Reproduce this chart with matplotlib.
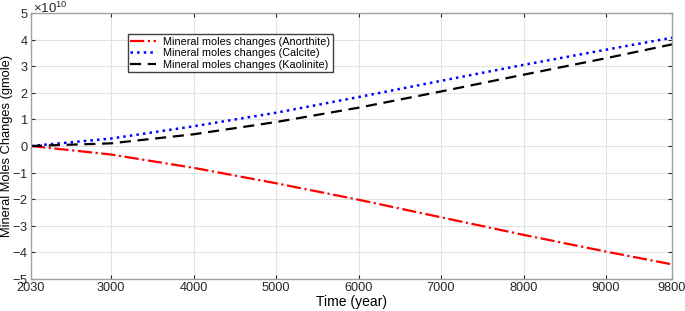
import numpy as np
import matplotlib.pyplot as plt
from matplotlib.ticker import ScalarFormatter

plt.rcParams['font.family'] = ['Liberation Sans', 'DejaVu Sans']
plt.rcParams['axes.unicode_minus'] = False
plt.rcParams['mathtext.fontset'] = 'custom'
plt.rcParams['mathtext.rm'] = 'Liberation Sans'
plt.rcParams['mathtext.it'] = 'Liberation Sans'

# values (units of 1e10 gmole)
years = [2030, 3000, 4000, 5000, 6000, 7000, 8000, 9000, 9800]
anorthite = [0.0, -0.32, -0.82, -1.40, -2.02, -2.68, -3.34, -3.97, -4.45]
calcite = [0.0, 0.28, 0.74, 1.25, 1.84, 2.45, 3.05, 3.62, 4.07]
kaolinite = [0.0, 0.10, 0.44, 0.90, 1.44, 2.05, 2.68, 3.30, 3.82]
xticks = [2030, 3000, 4000, 5000, 6000, 7000, 8000, 9000, 9800]

scale = 1e10
fig = plt.figure(figsize=(6.85, 3.11), dpi=100)
ax = fig.add_axes([31/685, 32/311, 641/685, 266/311])

ax.plot(years, np.array(anorthite)*scale, color='red', ls='-.', lw=1.6,
        label='Mineral moles changes (Anorthite)')
ax.plot(years, np.array(calcite)*scale, color='blue', ls=':', lw=1.8,
        label='Mineral moles changes (Calcite)')
ax.plot(years, np.array(kaolinite)*scale, color='black', ls=(0, (5, 3)), lw=1.6,
        label='Mineral moles changes (Kaolinite)')

ax.set_xlim(2030, 9800)
ax.set_ylim(-5*scale, 5*scale)
ax.set_xticks(xticks)
ax.set_yticks(np.arange(-5, 6)*scale)
fmt = ScalarFormatter(useMathText=True)
fmt.set_powerlimits((0, 0))
ax.yaxis.set_major_formatter(fmt)
ax.yaxis.get_offset_text().set_visible(False)
fig.text(33/685, 1 - 1/311, r'$\times10^{10}$', fontsize=9.5,
         color='#262626', ha='left', va='top')

ax.grid(True, color='#e3e3e3', lw=0.8)
ax.tick_params(direction='in', labelsize=9.2, colors='#262626', length=3,
               pad=2, top=True, right=True)
for s in ax.spines.values():
    s.set_color('#a0a0a0')
    s.set_linewidth(1.0)

ax.set_xlabel('Time (year)', fontsize=10, labelpad=1)
ax.set_ylabel('Mineral Moles Changes (gmole)', fontsize=9.3)
ax.yaxis.set_label_coords(-18/641, 0.5)

ax.legend(loc='upper left', bbox_to_anchor=(0.151, 0.92), fontsize=7.8,
          frameon=True, fancybox=False, edgecolor='#404040', framealpha=1,
          handlelength=2.4, handletextpad=0.6, borderpad=0.25,
          labelspacing=0.12, borderaxespad=0)

fig.savefig('out.png', dpi=100)
